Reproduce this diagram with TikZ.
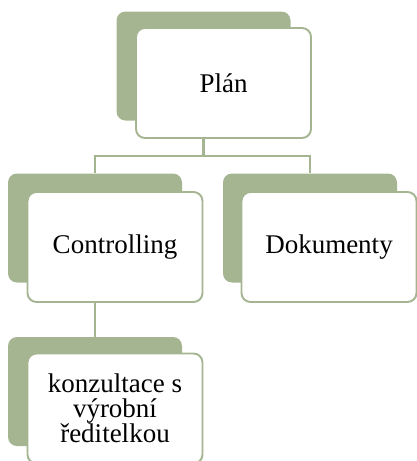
\documentclass[tikz,border=0pt]{standalone}
\usepackage{fontspec}
\setmainfont{Liberation Serif}
\usepackage{tikz}
\usetikzlibrary{positioning,backgrounds}
\definecolor{olivegreen}{HTML}{A5B592}

\begin{document}
\begin{tikzpicture}[
    x=1pt, y=-1pt,
    every node/.style={font=\fontsize{27}{24.5}\selectfont},
    back/.style={fill=olivegreen, rounded corners=9pt, minimum width=174pt, minimum height=109pt,
                 inner sep=0pt},
    front/.style={draw=olivegreen, fill=white, rounded corners=9pt, line width=1.9pt,
                  minimum width=175pt, minimum height=110pt, align=center, inner sep=0pt},
    link/.style={draw=olivegreen, line width=2.2pt},
]
    \useasboundingbox (0,0) rectangle (417,461);
    \clip (0,0) rectangle (417,461);

    \node[back] (plan-back) at (203.5,66) {};
    \node[front] (plan) at ([shift={(20,17)}]plan-back.center) {Plán};

    \node[back] (ctrl-back) at (95,228) {};
    \node[front] (ctrl) at ([shift={(20,19)}]ctrl-back.center) {Controlling};

    \node[back] (doc-back) at (310,228) {};
    \node[front] (doc) at ([shift={(19,19)}]doc-back.center) {Dokumenty};

    \node[back] (konz-back) at (95,391.5) {};
    \node[front] (konz) at ([shift={(20,17)}]konz-back.center) {konzultace s\\výrobní\\ředitelkou};

    \begin{pgfonlayer}{background}
        \coordinate (split) at ([yshift=-35pt]plan-back.south);
        \draw[link] (plan-back.south) -- (split);
        \draw[link] (split) -| (ctrl-back.north);
        \draw[link] (split) -| (doc-back.north);
        \draw[link] (ctrl-back.south) -- (konz-back.north);
    \end{pgfonlayer}
\end{tikzpicture}
\end{document}
